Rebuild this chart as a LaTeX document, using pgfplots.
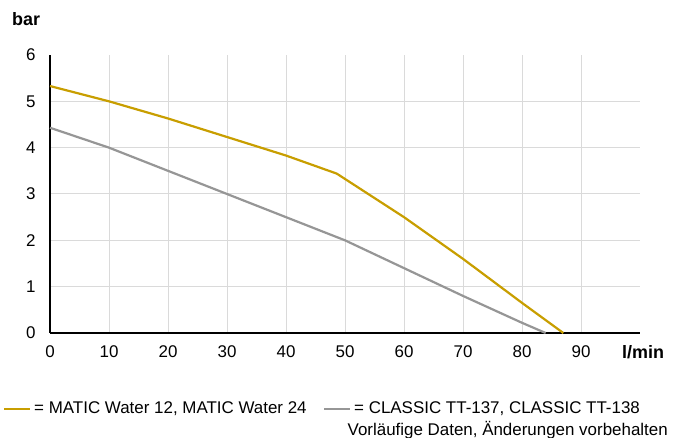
\documentclass[border=0pt]{standalone}
\usepackage{pgfplots}
\pgfplotsset{compat=1.18}
\usepackage{fontspec}
\setmainfont{Liberation Sans}
\definecolor{cyel}{RGB}{200,158,0}
\definecolor{cgray}{RGB}{150,150,150}
\definecolor{cgrid}{RGB}{218,218,218}
\begin{document}
\begin{tikzpicture}[x=1bp,y=1bp]
\path[use as bounding box] (0,0) rectangle (683,438);
\begin{axis}[
  at={(50bp,105bp)}, anchor=south west,
  scale only axis, width=590bp, height=278bp,
  xmin=0, xmax=100, ymin=0, ymax=6,
  axis lines=left, axis line style={black, line width=1.5bp, -},
  xtick={0,10,...,90}, ytick={0,...,5},
  extra y ticks={6}, extra y tick style={grid=none},
  major tick length=0pt,
  grid=major, major grid style={cgrid, line width=1bp},
  tick label style={font=\fontsize{17}{20}\selectfont},
  /pgf/number format/assume math mode=true,
  xticklabel style={yshift=-9bp},
  yticklabel style={xshift=-11bp},
  clip=false,
]
\addplot[cyel, line width=2.2bp] coordinates {
(0,5.33) (10,5.0) (20,4.63) (30,4.23) (40,3.83) (48.6,3.44) (60,2.5) (70,1.6) (80,0.65) (87,0)};
\addplot[cgray, line width=2.2bp] coordinates {
(0,4.43) (10,4.0) (20,3.5) (30,3.0) (40,2.5) (50,2.0) (60,1.4) (70,0.8) (80,0.22) (84,0)};
\end{axis}
\node[anchor=west, font=\bfseries\fontsize{18}{21}\selectfont, inner sep=0pt] at (12,419) {bar};
\node[anchor=west, font=\bfseries\fontsize{18}{21}\selectfont, inner sep=0pt] at (622,86) {l/min};
\draw[cyel, line width=2.5bp] (4,29) -- (30,29);
\node[anchor=west, font=\fontsize{17}{20}\selectfont, inner sep=0pt] at (34,29) {= MATIC Water 12, MATIC Water 24};
\draw[cgray, line width=2.5bp] (324,29) -- (350,29);
\node[anchor=west, font=\fontsize{17}{20}\selectfont, inner sep=0pt] at (354,29) {= CLASSIC TT-137, CLASSIC TT-138};
\node[anchor=east, font=\fontsize{17}{20}\selectfont, inner sep=0pt] at (668,8) {Vorläufige Daten, Änderungen vorbehalten};
\end{tikzpicture}
\end{document}
